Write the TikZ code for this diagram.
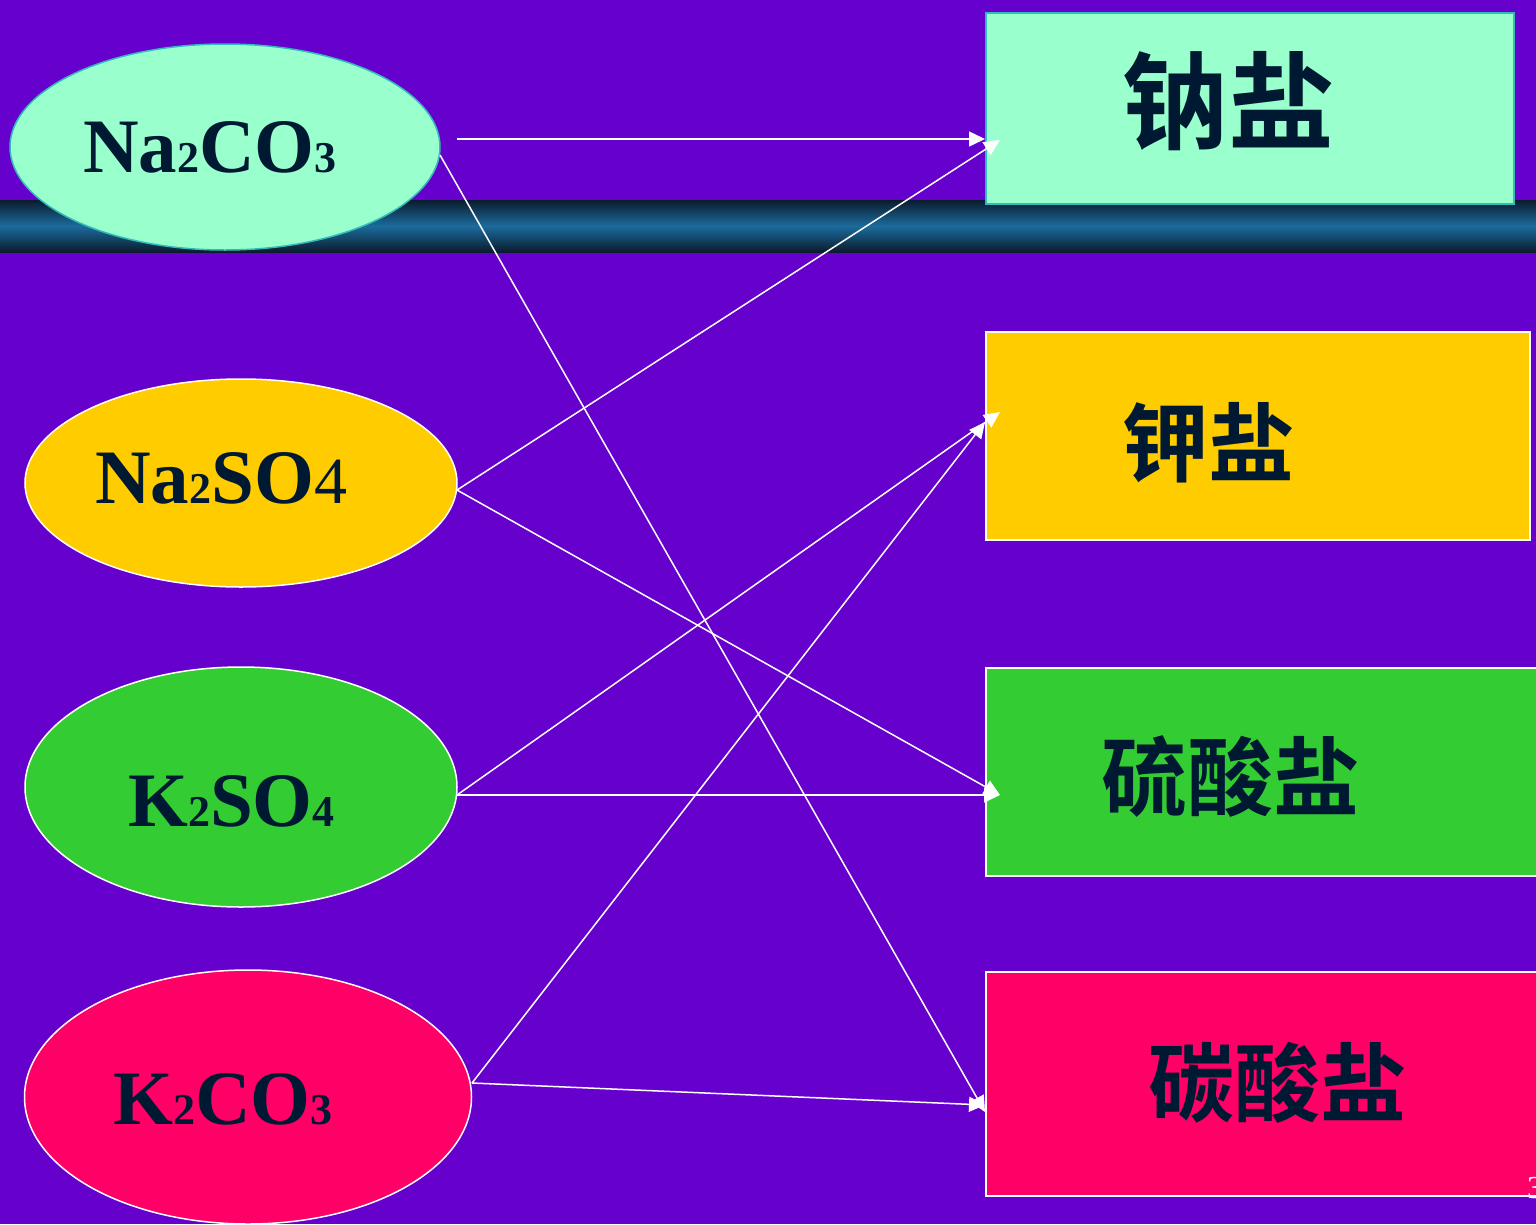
\documentclass[tikz,border=0pt]{standalone}
\usepackage{fontspec}
\setmainfont{Liberation Serif}
\newfontfamily\cjk{Noto Sans CJK SC}[BoldFont=* Bold]
\usetikzlibrary{shapes.geometric,arrows.meta}
\definecolor{bgpurple}{HTML}{6600CC}
\definecolor{mint}{HTML}{99FFCC}
\definecolor{gold}{HTML}{FFCC00}
\definecolor{leaf}{HTML}{33CC33}
\definecolor{rose}{HTML}{FF0066}
\definecolor{teal}{HTML}{33BBBB}
\definecolor{ink}{HTML}{001933}
\definecolor{banddark}{HTML}{0A1C2E}
\definecolor{bandmid}{HTML}{1C6B9C}
\newcommand\sd[1]{{\fontsize{44}{44}\selectfont #1}}
\tikzset{
  oval/.style={ellipse, draw=white, line width=1.5pt, inner sep=0pt},
  catbox/.style={rectangle, draw=white, line width=2pt, inner sep=0pt, anchor=north west},
  formula/.style={anchor=base west, inner sep=0pt, text=ink, font=\fontsize{77}{77}\selectfont\bfseries},
  cattext/.style={text=ink, inner sep=0pt, font=\cjk\bfseries\fontsize{86}{86}\selectfont},
  link/.style={draw=white, line width=1.5pt, -{Triangle[length=16pt,width=15pt]}},
}
\begin{document}
\begin{tikzpicture}[x=1pt,y=-1pt]
\useasboundingbox (0,0) rectangle (1536,1224);
\clip (0,0) rectangle (1536,1224);
\fill[bgpurple] (0,0) rectangle (1536,1224);
\shade[top color=banddark, bottom color=banddark, middle color=bandmid] (0,200) rectangle (1536,252);

% boxes
\node[catbox, draw=teal, fill=mint, minimum width=528pt, minimum height=191pt] (b1) at (985,12) {};
\node[catbox, fill=gold, minimum width=544pt, minimum height=208pt] (b2) at (985,331) {};
\node[catbox, fill=leaf, minimum width=560pt, minimum height=208pt] (b3) at (985,667) {};
\node[catbox, fill=rose, minimum width=560pt, minimum height=224pt] (b4) at (985,971) {};

\node[cattext, font=\cjk\bfseries\fontsize{106}{106}\selectfont] (t1) at (1228,101) {钠盐};
\node[cattext] (t2) at (1208,443) {钾盐};
\node[cattext] (t3) at (1230,777) {硫酸盐};
\node[cattext] (t4) at (1277,1083) {碳酸盐};

% ellipses
\node[oval, draw=teal, fill=mint, minimum width=430pt, minimum height=206pt] (e1) at (225,147) {};
\node[oval, fill=gold, minimum width=432pt, minimum height=208pt] (e2) at (241,483) {};
\node[oval, fill=leaf, minimum width=432pt, minimum height=240pt] (e3) at (241,787) {};
\node[oval, fill=rose, minimum width=447pt, minimum height=254pt] (e4) at (248,1097) {};

\node[formula] (f1) at (83,172) {Na\sd{2}CO\sd{3}};
\node[formula] (f2) at (95,503) {Na\sd{2}SO{\mdseries\fontsize{66}{66}\selectfont 4}};
\node[formula] (f3) at (128,826) {K\sd{2}SO\sd{4}};
\node[formula] (f4) at (113,1124) {K\sd{2}CO\sd{3}};

\node[anchor=base west, inner sep=0pt, text=white, font=\fontsize{32}{32}\selectfont] (pg) at (1527,1198) {3};

% connector end points
\coordinate (s1) at (457,139);
\coordinate (s1b) at (440,155);
\coordinate (s2) at (457,490);
\coordinate (s3) at (457,795);
\coordinate (s4) at (472,1083);
\coordinate (p1) at (985,139);
\coordinate (p2) at (1000,140);
\coordinate (p3) at (1000,412);
\coordinate (p4) at (985,422);
\coordinate (p5) at (1000,795);
\coordinate (p6) at (985,1105);
\coordinate (p7) at (985,1112);

\draw[link] (s1) -- (p1);
\draw[link] (s2) -- (p2);
\draw[link] (s1b) -- (p7);
\draw[link] (s2) -- (p5);
\draw[link] (s3) -- (p5);
\draw[link] (s3) -- (p3);
\draw[link] (s4) -- (p4);
\draw[link] (s4) -- (p6);
\end{tikzpicture}
\end{document}
